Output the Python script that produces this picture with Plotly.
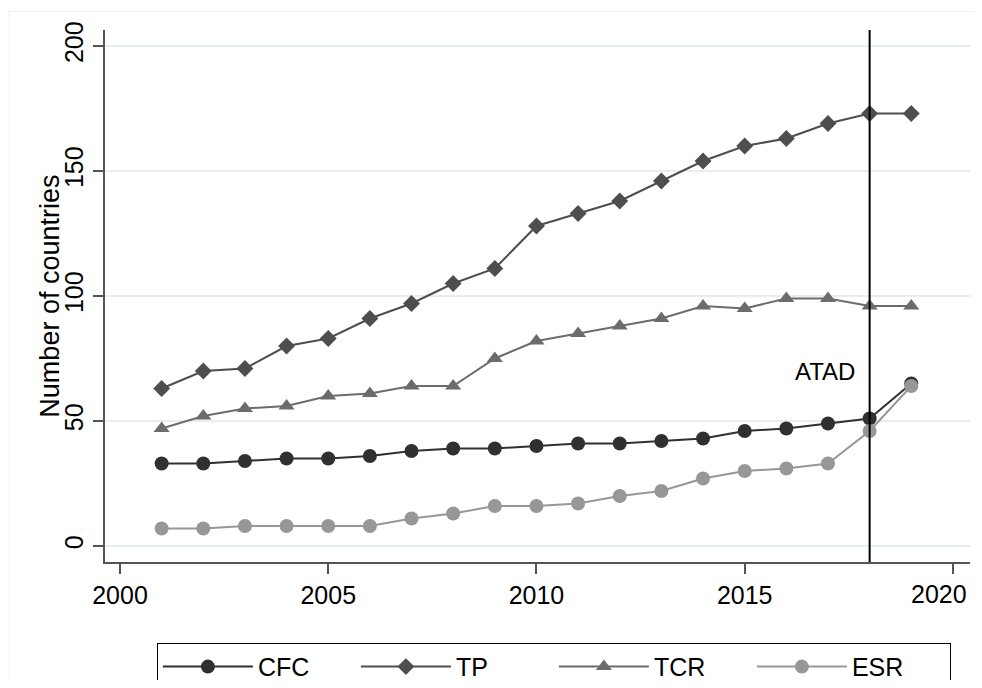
import plotly.graph_objects as go

years = list(range(2001, 2020))
cfc = [33, 33, 34, 35, 35, 36, 38, 39, 39, 40, 41, 41, 42, 43, 46, 47, 49, 51, 65]
tp = [63, 70, 71, 80, 83, 91, 97, 105, 111, 128, 133, 138, 146, 154, 160, 163, 169, 173, 173]
tcr = [47, 52, 55, 56, 60, 61, 64, 64, 75, 82, 85, 88, 91, 96, 95, 99, 99, 96, 96]
esr = [7, 7, 8, 8, 8, 8, 11, 13, 16, 16, 17, 20, 22, 27, 30, 31, 33, 46, 64]

x_ticks = [2000, 2005, 2010, 2015, 2020]
y_ticks = [0, 50, 100, 150, 200]

atad_year = 2018
atad_label = "ATAD"
y_title = "Number of countries"

series = [
    ("CFC", cfc, "#303030", "circle", 14),
    ("TP", tp, "#4e4e4e", "diamond", 13),
    ("TCR", tcr, "#6c6c6c", "triangle-up", 14),
    ("ESR", esr, "#979797", "circle", 14),
]

font = "Liberation Sans, Arial, sans-serif"

fig = go.Figure()
for name, vals, color, symbol, size in series:
    fig.add_trace(go.Scatter(
        x=years, y=vals, name=name, mode="lines+markers",
        line=dict(color=color, width=2),
        marker=dict(symbol=symbol, size=size, color=color),
    ))

fig.add_shape(type="line", x0=atad_year, x1=atad_year, y0=0, y1=1,
              xref="x", yref="paper", line=dict(color="black", width=2))
fig.add_annotation(x=atad_year - 0.3, y=70, text=atad_label, showarrow=False,
                   xanchor="right", yanchor="middle",
                   font=dict(size=24, color="black", family=font))

# y axis title placed by hand
fig.add_annotation(x=-0.064, y=0.5, xref="paper", yref="paper", text=y_title,
                   showarrow=False, textangle=-90, xanchor="center", yanchor="middle",
                   font=dict(size=27, color="black", family=font))

# last x tick label is pulled inside the page edge
fig.add_annotation(x=x_ticks[-1], y=0, xref="x", yref="paper", text=str(x_ticks[-1]),
                   showarrow=False, xanchor="right", yanchor="top", xshift=16, yshift=-16,
                   font=dict(size=25, color="black", family=font))

# faint outer border like the Stata graph region
fig.add_shape(type="rect", x0=-0.111, x1=1.03, y0=-0.3, y1=1.035,
              xref="paper", yref="paper", line=dict(color="#f2f2f2", width=1))

fig.update_layout(
    width=974, height=672,
    margin=dict(l=97, r=12, t=22, b=118, autoexpand=False),
    paper_bgcolor="white", plot_bgcolor="white",
    font=dict(family=font, size=25, color="black"),
    showlegend=True,
    legend=dict(
        orientation="h", x=0.06, xanchor="left", y=-0.152, yanchor="top",
        bordercolor="black", borderwidth=1, bgcolor="white",
        font=dict(size=25), entrywidth=93, entrywidthmode="pixels",
        itemwidth=90,
    ),
    xaxis=dict(
        range=[1999.64, 2020.41], tickvals=x_ticks,
        ticktext=[str(v) for v in x_ticks[:-1]] + [""],
        showgrid=False, zeroline=False, showline=True, linecolor="#555555", linewidth=2,
        ticks="outside", ticklen=10, tickwidth=2, tickcolor="#555555",
        tickfont=dict(size=25),
    ),
    yaxis=dict(
        range=[-6.4, 206.4], tickvals=y_ticks,
        showgrid=True, gridcolor="#e5eef0", gridwidth=2, zeroline=False,
        showline=True, linecolor="#555555", linewidth=2,
        ticks="outside", ticklen=10, tickwidth=2, tickcolor="#555555",
        tickangle=-90, tickfont=dict(size=25),
    ),
)

fig.write_html("out.html")
